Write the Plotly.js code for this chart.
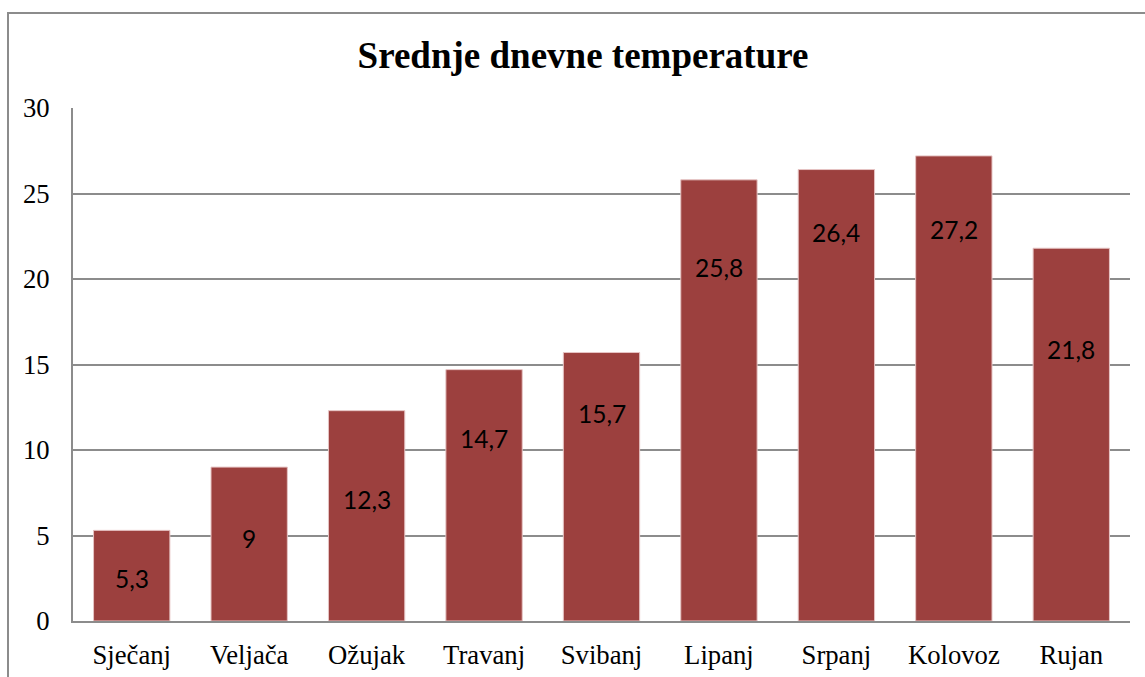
<!DOCTYPE html>
<html><head><meta charset="utf-8">
<script src="https://cdn.plot.ly/plotly-3.0.1.min.js"></script>
<style>
html,body{margin:0;padding:0;background:#fff;overflow:hidden;}
#frame{position:absolute;left:7px;top:12px;width:1200px;height:700px;border:2px solid #8c8c8c;box-sizing:border-box;pointer-events:none;z-index:5;}
#chart{position:absolute;left:0;top:0;width:1145px;height:677px;}
</style></head>
<body>
<div id="chart"></div>
<div id="frame"></div>
<script>
const months = ["Sječanj","Veljača","Ožujak","Travanj","Svibanj","Lipanj","Srpanj","Kolovoz","Rujan"];
const temps = [5.3, 9, 12.3, 14.7, 15.7, 25.8, 26.4, 27.2, 21.8];
// where each data label sits (in °C, as placed in the original chart)
const labelAt = [2.5, 4.8, 7.1, 10.7, 12.15, 20.7, 22.7, 22.9, 15.9];
const yTicks = [0,5,10,15,20,25,30];

const labels = temps.map(v => String(v).replace('.', ','));

const annotations = months.map((m, i) => ({
  x: m, y: labelAt[i], xref: 'x', yref: 'y',
  text: labels[i], showarrow: false, xanchor: 'center', yanchor: 'middle',
  font: {family: 'Lato, "Open Sans", sans-serif', size: 24.5, color: '#000'}
}));

Plotly.newPlot('chart', [{
  type: 'bar',
  x: months,
  y: temps,
  marker: {color: '#9c403e', line: {color: '#e6c4c4', width: 1}},
  hoverinfo: 'none'
}], {
  width: 1145, height: 677,
  margin: {l: 73, r: 15, t: 108, b: 56},
  bargap: 0.35,
  paper_bgcolor: '#fff', plot_bgcolor: '#fff',
  title: {text: '<b>Srednje dnevne temperature</b>', x: 583/1145, xanchor: 'center', y: 1 - 55/677, yanchor: 'middle',
          font: {family: '"Liberation Serif", "Times New Roman", serif', size: 37, color: '#000'}},
  xaxis: {showgrid: false, showline: true, linecolor: '#8c8c8c', linewidth: 2, ticks: '',
          tickfont: {family: '"Liberation Serif", "Times New Roman", serif', size: 26.7, color: '#000'},
          ticklabelstandoff: 9, fixedrange: true},
  yaxis: {range: [0, 30], tickvals: yTicks, showgrid: true, gridcolor: '#8c8c8c', gridwidth: 2,
          showline: true, linecolor: '#8c8c8c', linewidth: 2, ticks: '', zeroline: false,
          tickfont: {family: '"Liberation Serif", "Times New Roman", serif', size: 26.7, color: '#000'},
          ticklabelstandoff: 16, fixedrange: true},
  annotations: annotations,
  showlegend: false
}, {displayModeBar: false, staticPlot: true});
</script>
</body></html>
